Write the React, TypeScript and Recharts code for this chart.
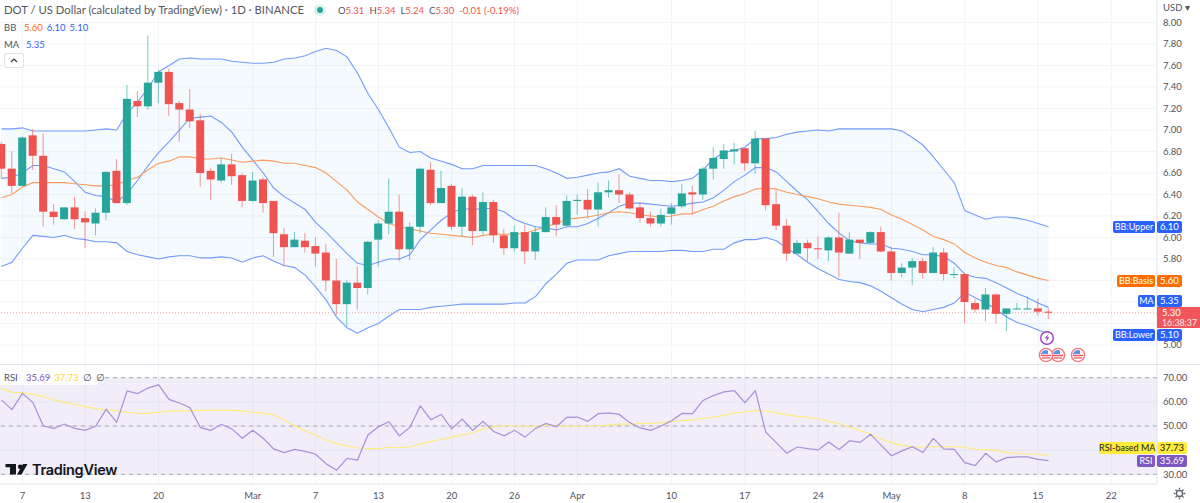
import * as React from "react";
import {
  ComposedChart,
  Area,
  Bar,
  Line,
  XAxis,
  YAxis,
  CartesianGrid,
  ReferenceLine,
  ReferenceArea,
} from "recharts";

// one entry per daily candle, first one is Feb 5
const opens = [
  6.87, 6.64, 6.48, 6.95, 6.76, 6.24, 6.17, 6.28, 6.18, 6.13,
  6.23, 6.62, 6.32, 7.27, 7.22, 7.44, 7.54, 7.25, 7.19, 7.09,
  6.62, 6.53, 6.68, 6.58, 6.34, 6.54, 6.34, 6.03, 5.91, 5.97,
  5.92, 5.86, 5.6, 5.38, 5.58, 5.53, 5.98, 6.13, 6.24, 5.89,
  6.1, 6.63, 6.32, 6.48, 6.1, 6.38, 6.06, 6.33, 6.02, 5.9,
  6.05, 5.87, 6.05, 6.19, 6.11, 6.34, 6.35, 6.26, 6.42, 6.44,
  6.4, 6.28, 6.18, 6.13, 6.22, 6.29, 6.42, 6.4, 6.64, 6.73,
  6.8, 6.83, 6.69, 6.92, 6.31, 6.11, 5.85, 5.95, 5.9, 5.88,
  6.0, 5.85, 5.98, 5.95, 6.05, 5.87, 5.67, 5.72, 5.78, 5.67,
  5.86, 5.66, 5.66, 5.39, 5.33, 5.47, 5.29, 5.34, 5.34, 5.34,
  5.31,
];
const highs = [
  6.89, 6.8, 6.94, 7.01, 6.97, 6.31, 6.28, 6.38, 6.24, 6.27,
  6.62, 6.73, 7.42, 7.36, 7.88, 7.56, 7.57, 7.27, 7.38, 7.15,
  6.65, 6.74, 6.78, 6.6, 6.61, 6.56, 6.34, 6.09, 6.05, 6.04,
  6.0, 5.94, 5.8, 5.6, 5.73, 5.97, 6.16, 6.55, 6.4, 6.14,
  6.65, 6.7, 6.62, 6.5, 6.46, 6.4, 6.42, 6.35, 6.08, 6.11,
  6.12, 6.1, 6.28, 6.3, 6.39, 6.4, 6.45, 6.51, 6.53, 6.59,
  6.42, 6.33, 6.24, 6.27, 6.32, 6.5, 6.48, 6.66, 6.84, 6.87,
  6.88, 6.83, 6.99, 6.92, 6.44, 6.17, 5.98, 5.98, 6.01, 6.01,
  6.23, 6.05, 5.98, 6.06, 6.1, 5.91, 5.76, 5.81, 5.81, 5.91,
  5.9, 5.72, 5.67, 5.43, 5.53, 5.48, 5.34, 5.39, 5.45, 5.43,
  5.34,
];
const lows = [
  6.55, 6.41, 6.48, 6.63, 6.1, 6.12, 6.16, 6.08, 5.9, 6.02,
  6.16, 6.32, 6.3, 7.12, 7.19, 7.25, 7.13, 6.89, 7.02, 6.47,
  6.35, 6.51, 6.49, 6.28, 6.33, 6.23, 5.82, 5.73, 5.91, 5.86,
  5.73, 5.5, 5.28, 5.17, 5.33, 5.47, 5.73, 6.03, 5.78, 5.79,
  6.04, 6.3, 6.32, 6.07, 6.01, 5.93, 6.02, 5.95, 5.84, 5.87,
  5.75, 5.79, 6.05, 6.01, 6.1, 6.21, 6.18, 6.1, 6.37, 6.32,
  6.26, 6.14, 6.1, 6.1, 6.12, 6.27, 6.22, 6.35, 6.54, 6.64,
  6.68, 6.62, 6.59, 6.25, 6.07, 5.78, 5.85, 5.78, 5.8, 5.78,
  5.63, 5.85, 5.8, 5.94, 5.86, 5.6, 5.63, 5.56, 5.62, 5.67,
  5.6, 5.62, 5.2, 5.3, 5.22, 5.2, 5.13, 5.33, 5.33, 5.27,
  5.24,
];
const closes = [
  6.64, 6.48, 6.93, 6.76, 6.24, 6.19, 6.28, 6.17, 6.14, 6.23,
  6.61, 6.32, 7.29, 7.22, 7.44, 7.54, 7.24, 7.19, 7.08, 6.6,
  6.54, 6.68, 6.57, 6.34, 6.53, 6.32, 6.04, 5.91, 5.98, 5.91,
  5.85, 5.6, 5.38, 5.58, 5.53, 5.96, 6.13, 6.24, 5.89, 6.1,
  6.64, 6.32, 6.46, 6.1, 6.38, 6.06, 6.33, 6.02, 5.9, 6.05,
  5.87, 6.05, 6.19, 6.12, 6.34, 6.35, 6.26, 6.42, 6.44, 6.4,
  6.27, 6.18, 6.13, 6.21, 6.28, 6.41, 6.4, 6.64, 6.74, 6.81,
  6.82, 6.69, 6.92, 6.3, 6.11, 5.85, 5.95, 5.9, 5.89, 6.0,
  5.86, 5.98, 5.95, 6.05, 5.87, 5.67, 5.72, 5.78, 5.67, 5.86,
  5.66, 5.66, 5.4, 5.33, 5.47, 5.29, 5.34, 5.34, 5.34, 5.31,
  5.3,
];
const bbUpper = [
  7.01, 7.01, 7.02, 6.99, 6.99, 6.99, 6.99, 6.99, 6.99, 7.0,
  7.01, 7.0, 7.16, 7.26, 7.39, 7.54, 7.6, 7.66, 7.67, 7.66,
  7.66, 7.66, 7.64, 7.63, 7.62, 7.62, 7.63, 7.66, 7.67, 7.69,
  7.73, 7.76, 7.74, 7.68, 7.53, 7.34, 7.19, 7.02, 6.84, 6.79,
  6.8, 6.74, 6.71, 6.68, 6.64, 6.64, 6.67, 6.67, 6.67, 6.67,
  6.67, 6.67, 6.64, 6.6, 6.55, 6.56, 6.58, 6.6, 6.61, 6.64,
  6.57, 6.55, 6.53, 6.53, 6.52, 6.53, 6.55, 6.63, 6.73, 6.79,
  6.81, 6.84, 6.92, 6.92, 6.93, 6.96, 6.98, 6.99, 7.0, 6.99,
  7.01, 7.01, 7.01, 7.01, 7.01, 7.01, 6.99, 6.93, 6.86, 6.75,
  6.63, 6.51, 6.25, 6.21, 6.17, 6.19, 6.19, 6.18, 6.16, 6.13,
  6.1,
];
const bbLower = [
  5.73, 5.77, 5.9, 6.02, 6.01, 6.0, 6.02, 5.99, 5.98, 5.96,
  5.96, 5.95, 5.87, 5.84, 5.82, 5.8, 5.82, 5.83, 5.83, 5.81,
  5.81, 5.82, 5.81, 5.77, 5.81, 5.83, 5.78, 5.74, 5.72, 5.65,
  5.54, 5.42, 5.26, 5.16, 5.11, 5.16, 5.2, 5.27, 5.33, 5.33,
  5.33, 5.35, 5.36, 5.37, 5.38, 5.38, 5.38, 5.38, 5.38, 5.39,
  5.39, 5.45, 5.57, 5.66, 5.76, 5.79, 5.79, 5.79, 5.83, 5.85,
  5.87, 5.87, 5.87, 5.87, 5.88, 5.88, 5.87, 5.87, 5.89, 5.89,
  5.95, 5.98, 5.98, 6.0, 5.97, 5.9, 5.84, 5.77, 5.71, 5.66,
  5.61, 5.59, 5.58, 5.55, 5.5, 5.44, 5.38, 5.33, 5.31, 5.33,
  5.35, 5.39, 5.49, 5.44, 5.39, 5.33, 5.26, 5.21, 5.18, 5.14,
  5.1,
];
const bbBasis = [
  6.37, 6.4, 6.47, 6.51, 6.51, 6.51, 6.51, 6.5, 6.49, 6.48,
  6.48, 6.49, 6.53, 6.56, 6.63, 6.69, 6.71, 6.75, 6.75, 6.73,
  6.73, 6.74, 6.72, 6.7, 6.71, 6.72, 6.71, 6.69, 6.69, 6.67,
  6.65, 6.6, 6.52, 6.44, 6.33, 6.26, 6.19, 6.13, 6.1, 6.08,
  6.06, 6.04, 6.03, 6.02, 6.01, 6.0, 6.02, 6.03, 6.03, 6.03,
  6.04, 6.07, 6.1, 6.13, 6.17, 6.18, 6.19, 6.21, 6.23, 6.24,
  6.23, 6.21, 6.2, 6.19, 6.2, 6.22, 6.22, 6.26, 6.29, 6.34,
  6.38, 6.41, 6.45, 6.46, 6.45, 6.42, 6.4, 6.38, 6.36, 6.33,
  6.31, 6.3, 6.29, 6.28, 6.26, 6.21, 6.17, 6.12, 6.07, 6.01,
  5.98, 5.94, 5.86, 5.81, 5.77, 5.74, 5.72, 5.68, 5.65, 5.62,
  5.6,
];
const maValues = [
  6.55, 6.56, 6.6, 6.67, 6.67, 6.64, 6.61, 6.52, 6.42, 6.39,
  6.38, 6.33, 6.41, 6.53, 6.67, 6.79, 6.89, 7.0, 7.11, 7.12,
  7.13, 7.07, 6.98, 6.84, 6.72, 6.6, 6.46, 6.38, 6.32, 6.26,
  6.14, 6.05, 5.95, 5.85, 5.76, 5.74, 5.77, 5.8, 5.8, 5.84,
  5.98, 6.07, 6.16, 6.23, 6.27, 6.26, 6.27, 6.27, 6.24, 6.17,
  6.13, 6.1, 6.09, 6.07, 6.1, 6.1, 6.13, 6.18, 6.23, 6.29,
  6.32, 6.32, 6.31, 6.3, 6.29, 6.3, 6.32, 6.33, 6.37, 6.44,
  6.52, 6.58, 6.65, 6.65, 6.61, 6.52, 6.43, 6.35, 6.24, 6.13,
  6.04, 5.97, 5.95, 5.94, 5.94, 5.9, 5.89, 5.87, 5.84, 5.84,
  5.82, 5.76, 5.66, 5.63, 5.62, 5.58, 5.53, 5.48, 5.44, 5.39,
  5.35,
];
const rsiValues = [
  60.8, 56.8, 63.5, 59.7, 50.0, 49.0, 50.8, 49.0, 48.2, 50.0,
  56.9, 51.5, 64.5, 63.4, 65.7, 67.1, 61.0, 59.5, 57.6, 49.3,
  48.2, 50.7, 48.8, 44.9, 48.2, 44.9, 40.5, 39.0, 40.3, 39.5,
  38.3, 34.4, 31.7, 36.6, 35.9, 46.3, 49.7, 51.8, 45.9, 49.4,
  58.3, 52.6, 54.8, 48.8, 52.9, 48.2, 51.9, 47.7, 45.9, 48.2,
  45.4, 49.0, 51.1, 49.7, 53.6, 53.7, 51.9, 55.1, 55.4, 54.8,
  51.4, 49.2, 48.2, 50.0, 52.2, 55.2, 55.1, 60.6, 62.6, 64.1,
  64.6, 59.7, 64.6, 47.4, 43.1, 38.7, 41.3, 40.6, 40.1, 43.4,
  40.3, 43.9, 43.2, 46.6, 42.1, 37.7, 39.7, 41.4, 39.0, 44.9,
  40.5, 40.3, 34.8, 33.6, 38.7, 35.1, 36.9, 37.2, 37.2, 36.2,
  35.69,
];
const rsiMaValues = [
  65.6, 63.9, 63.8, 63.1, 62.3, 60.8, 59.8, 59.0, 57.9, 57.2,
  56.8, 56.3, 55.7, 55.2, 55.2, 55.7, 56.3, 56.3, 56.3, 56.5,
  56.5, 56.5, 56.5, 56.3, 55.7, 55.2, 54.6, 52.5, 50.0, 47.9,
  46.3, 44.2, 42.7, 41.7, 41.0, 40.6, 40.6, 41.2, 41.0, 41.3,
  42.6, 43.5, 44.5, 45.3, 46.3, 47.2, 48.8, 49.6, 50.1, 50.1,
  49.9, 49.9, 50.4, 50.1, 49.9, 49.9, 49.9, 50.1, 50.4, 50.8,
  50.8, 51.0, 51.1, 51.4, 51.9, 52.2, 52.5, 53.2, 53.7, 54.4,
  55.4, 55.8, 56.5, 56.1, 55.4, 54.7, 54.0, 53.6, 52.9, 51.9,
  51.0, 49.4, 48.1, 46.7, 44.6, 43.1, 41.9, 41.4, 41.3, 41.4,
  41.4, 41.4, 41.2, 40.3, 40.2, 39.9, 39.1, 38.6, 38.4, 38.3,
  37.73,
];

const timeTicks = [2, 8, 15, 24, 30, 36, 43, 49, 55, 64, 71, 78, 85, 92, 99, 106];
const timeLabels = ["7", "13", "20", "Mar", "7", "13", "20", "26", "Apr", "10", "17", "24", "May", "8", "15", "22"];
// 5.20 to 5.60 sit under the value tags, only their grid lines show
const priceTicks = [5, 5.8, 6, 6.2, 6.4, 6.6, 6.8, 7, 7.2, 7.4, 7.6, 7.8, 8];
const priceGridTicks = [5, 5.2, 5.4, 5.6, 5.8, 6, 6.2, 6.4, 6.6, 6.8, 7, 7.2, 7.4, 7.6, 7.8, 8];
const rsiTicks = [30, 50, 60, 70];
const rsiGridTicks = [30, 40, 50, 60, 70];

const UP = "#26a69a";
const DOWN = "#ef5350";
const BB_BLUE = "#739bfa";
const BB_ORANGE = "#fb9c5f";
const GRID = "#f2f4f9";
const BORDER = "#e0e3eb";
const TEXT = "#50535e";
const FONT = "Lato, 'Noto Sans', sans-serif";
const SMALL = 9.5;

const chartData = opens.map((open, i) => ({
  day: i,
  open,
  high: highs[i],
  low: lows[i],
  close: closes[i],
  range: [lows[i], highs[i]],
  band: [bbLower[i], bbUpper[i]],
  upper: bbUpper[i],
  lower: bbLower[i],
  basis: bbBasis[i],
  ma: maValues[i],
  rsi: rsiValues[i],
  rsiMa: rsiMaValues[i],
}));

const X_DOMAIN: [number, number] = [-0.143, 110.36];
const PRICE_DOMAIN: [number, number] = [4.814, 8.209];
const RSI_DOMAIN: [number, number] = [25.98, 75.26];

function Candle(props: any) {
  const { x, y, width, height, payload } = props;
  const { open, high, low, close } = payload;
  const pxPerUnit = height / (high - low);
  const color = close >= open ? UP : DOWN;
  const bodyTop = y + (high - Math.max(open, close)) * pxPerUnit;
  const bodyHeight = Math.max(Math.abs(open - close) * pxPerUnit, 1);
  const cx = x + width / 2;
  return (
    <g>
      <line x1={cx} x2={cx} y1={y} y2={y + height} stroke={color} strokeOpacity={0.6} />
      <rect x={x} y={bodyTop} width={width} height={bodyHeight} fill={color} />
    </g>
  );
}

function Tag({ text, value, top, color, ink = "#fff", left, right = 1182, h = 12 }: any) {
  const base: React.CSSProperties = {
    position: "absolute",
    top,
    height: h,
    lineHeight: `${h}px`,
    background: color,
    color: ink,
    borderRadius: 2,
    textAlign: "center",
    whiteSpace: "nowrap",
  };
  return (
    <>
      <div style={{ ...base, left, width: 1155 - left, fontSize: 9 }}>{text}</div>
      <div style={{ ...base, left: 1157, width: right - 1157, fontSize: SMALL }}>{value}</div>
    </>
  );
}

function Legend() {
  const row: React.CSSProperties = { position: "absolute", left: 4, fontSize: SMALL, color: TEXT, whiteSpace: "nowrap" };
  const gap = { marginLeft: 5 };
  return (
    <>
      <div style={{ ...row, top: 2, fontSize: 11.3, lineHeight: "16px", color: "#555862" }}>
        DOT / US Dollar (calculated by TradingView) · 1D · BINANCE
      </div>
      <svg style={{ position: "absolute", left: 313, top: 3 }} width={14} height={14}>
        <circle cx={7} cy={7} r={6} fill="#26a69a" fillOpacity={0.15} />
        <circle cx={7} cy={7} r={3} fill="#26a69a" />
      </svg>
      <div style={{ ...row, left: 338, top: 3, lineHeight: "15px" }}>
        O<span style={{ color: DOWN }}>5.31</span>
        <span style={gap}>H</span>
        <span style={{ color: DOWN }}>5.34</span>
        <span style={gap}>L</span>
        <span style={{ color: DOWN }}>5.24</span>
        <span style={gap}>C</span>
        <span style={{ color: DOWN }}>5.30</span>
        <span style={{ ...gap, color: DOWN }}>-0.01 (-0.19%)</span>
      </div>
      <div style={{ ...row, top: 21, lineHeight: "13px" }}>BB</div>
      <div style={{ ...row, left: 24, top: 21, lineHeight: "13px" }}>
        <span style={{ color: "#ff6d00" }}>5.60</span>
        <span style={{ color: "#2962ff", marginLeft: 4 }}>6.10</span>
        <span style={{ color: "#2962ff", marginLeft: 4 }}>5.10</span>
      </div>
      <div style={{ ...row, top: 38, lineHeight: "13px" }}>MA</div>
      <div style={{ ...row, left: 26, top: 38, lineHeight: "13px", color: "#2962ff" }}>5.35</div>
      <div
        style={{
          position: "absolute",
          left: 4,
          top: 53,
          width: 20,
          height: 15,
          background: "#fff",
          border: `1px solid ${BORDER}`,
          borderRadius: 2,
          boxSizing: "border-box",
        }}
      >
        <svg width={18} height={13} style={{ display: "block" }}>
          <path d="M6 8 L9 5 L12 8" fill="none" stroke="#333" strokeWidth={1.2} />
        </svg>
      </div>
      <div style={{ position: "absolute", left: 0, top: 371, width: 98, height: 14, background: "rgba(255,255,255,0.85)" }} />
      <div style={{ ...row, top: 371, lineHeight: "14px" }}>RSI</div>
      <div style={{ ...row, left: 26, top: 371, lineHeight: "14px" }}>
        <span style={{ color: "#7e57c2" }}>35.69</span>
        <span style={{ color: "#fdd835", marginLeft: 4 }}>37.73</span>
        <span style={{ marginLeft: 4 }}>∅</span>
        <span style={{ marginLeft: 4 }}>∅</span>
      </div>
      <div style={{ ...row, left: 1163, top: 1, lineHeight: "13px" }}>USD ▾</div>
    </>
  );
}

function Logo() {
  return (
    <>
      <svg style={{ position: "absolute", left: 5, top: 464 }} width={24} height={12} viewBox="0 0 24 12">
        <path d="M0.5 0 H11 V10.5 H5 V3.2 H0.5 Z" fill="#131722" />
        <circle cx={15.3} cy={2.8} r={2.4} fill="#131722" />
        <path d="M18 0 H22.5 L16.5 10.5 H12 Z" fill="#131722" />
      </svg>
      <div
        style={{
          position: "absolute",
          left: 32,
          top: 459,
          fontFamily: "Inter, sans-serif",
          fontSize: 14.5,
          letterSpacing: -0.3,
          fontWeight: 600,
          lineHeight: "22px",
          color: "#131722",
        }}
      >
        TradingView
      </div>
    </>
  );
}

function FlagIcon({ cx }: { cx: number }) {
  return (
    <g>
      <circle cx={cx} cy={355} r={6.6} fill="#fff" stroke="#f7787f" strokeWidth={1.4} />
      <path d={`M${cx - 5} 355.5 H${cx + 5}`} stroke="#f25560" strokeWidth={1.5} />
      <path d={`M${cx - 4} 358 H${cx + 4}`} stroke="#f25560" strokeWidth={1.3} />
      <path d={`M${cx - 5} 354 A5 5 0 0 1 ${cx + 2} 350.5 V354 Z`} fill="#5a92e6" />
    </g>
  );
}

function EventMarks() {
  return (
    <svg style={{ position: "absolute", left: 0, top: 0 }} width={1200} height={503}>
      <circle cx={1047} cy={338} r={6.3} fill="#fff" stroke="#9c3db8" strokeWidth={1.4} />
      <path d="M1048.5 334 L1044.8 338.6 H1047 L1045.8 342 L1049.4 337.4 H1047.2 Z" fill="#9c3db8" />
      <FlagIcon cx={1058} />
      <FlagIcon cx={1046} />
      <FlagIcon cx={1078} />
      <g fill="none" stroke="#5f6470" strokeWidth={1.3}>
        <circle cx={1179.5} cy={493.5} r={3} />
        <path d="M1179.5 487.8 V489.6 M1179.5 497.4 V499.2 M1173.8 493.5 H1175.6 M1183.4 493.5 H1185.2 M1175.5 489.5 L1176.7 490.7 M1182.3 496.3 L1183.5 497.5 M1175.5 497.5 L1176.7 496.3 M1182.3 490.7 L1183.5 489.5" />
      </g>
    </svg>
  );
}

export default function App() {
  return (
    <div style={{ position: "relative", width: 1200, height: 503, overflow: "hidden", fontFamily: FONT, background: "#fff" }}>
      <style>{"body{margin:0}"}</style>
      <div style={{ position: "absolute", left: 0, top: 0 }}>
        <ComposedChart width={1200} height={365} data={chartData} margin={{ top: 0, right: 0, bottom: 0, left: 0 }}>
          <CartesianGrid stroke={GRID} verticalValues={timeTicks} horizontalValues={priceGridTicks} />
          <XAxis dataKey="day" type="number" domain={X_DOMAIN} allowDataOverflow ticks={timeTicks} hide />
          <YAxis
            orientation="right"
            width={43}
            type="number"
            domain={PRICE_DOMAIN}
            allowDataOverflow
            ticks={priceTicks}
            interval={0}
            tickFormatter={(v: number) => v.toFixed(2)}
            tick={{ fill: TEXT, fontSize: SMALL }}
            tickLine={false}
            tickSize={4}
            axisLine={{ stroke: BORDER }}
          />
          <Area dataKey="band" stroke="none" fill="#2196f3" fillOpacity={0.05} isAnimationActive={false} />
          <Line dataKey="upper" stroke={BB_BLUE} strokeWidth={1.1} dot={false} isAnimationActive={false} />
          <Line dataKey="lower" stroke={BB_BLUE} strokeWidth={1.1} dot={false} isAnimationActive={false} />
          <Line dataKey="ma" stroke={BB_BLUE} strokeWidth={1.1} dot={false} isAnimationActive={false} />
          <Line dataKey="basis" stroke={BB_ORANGE} strokeWidth={1.1} dot={false} isAnimationActive={false} />
          <ReferenceLine y={5.3} stroke={DOWN} strokeOpacity={0.55} strokeDasharray="1 2" />
        </ComposedChart>
      </div>
      {/* candles sit on their own layer so the band lines stay behind them */}
      <div style={{ position: "absolute", left: 0, top: 0 }}>
        <ComposedChart width={1200} height={365} data={chartData} margin={{ top: 0, right: 43, bottom: 0, left: 0 }}>
          <XAxis dataKey="day" type="number" domain={X_DOMAIN} allowDataOverflow hide />
          <YAxis type="number" domain={PRICE_DOMAIN} allowDataOverflow hide />
          <Bar dataKey="range" barSize={8} shape={Candle} isAnimationActive={false} />
        </ComposedChart>
      </div>
      <div style={{ position: "absolute", left: 0, top: 365 }}>
        <ComposedChart width={1200} height={138} data={chartData} margin={{ top: 0, right: 0, bottom: 0, left: 0 }}>
          <CartesianGrid stroke={GRID} verticalValues={timeTicks} horizontalValues={rsiGridTicks} />
          <XAxis
            dataKey="day"
            type="number"
            domain={X_DOMAIN}
            allowDataOverflow
            ticks={timeTicks}
            interval={0}
            height={19}
            tickFormatter={(v: number) => timeLabels[timeTicks.indexOf(v)]}
            tick={{ fill: TEXT, fontSize: SMALL }}
            tickLine={false}
            axisLine={{ stroke: BORDER }}
          />
          <YAxis
            orientation="right"
            width={43}
            type="number"
            domain={RSI_DOMAIN}
            allowDataOverflow
            ticks={rsiTicks}
            interval={0}
            tickFormatter={(v: number) => v.toFixed(2)}
            tick={{ fill: TEXT, fontSize: SMALL }}
            tickLine={false}
            tickSize={4}
            axisLine={{ stroke: BORDER }}
          />
          <ReferenceArea y1={30} y2={70} fill="#7e57c2" fillOpacity={0.1} stroke="none" />
          <ReferenceLine y={70} stroke="#a9abb2" strokeDasharray="4 4" />
          <ReferenceLine y={50} stroke="#a9abb2" strokeDasharray="4 4" />
          <ReferenceLine y={30} stroke="#a9abb2" strokeDasharray="4 4" />
          <Line dataKey="rsiMa" stroke="#fdec7e" strokeWidth={1.2} dot={false} isAnimationActive={false} />
          <Line dataKey="rsi" stroke="#a78fd9" strokeWidth={1.2} dot={false} isAnimationActive={false} />
        </ComposedChart>
      </div>
      <div style={{ position: "absolute", left: 0, top: 364, width: 1200, height: 1, background: BORDER }} />
      <Legend />
      <Logo />
      <EventMarks />
      <Tag text="BB:Upper" value="6.10" top={221} color="#2962ff" left={1113} />
      <Tag text="BB:Basis" value="5.60" top={275} color="#ff6d00" left={1117} />
      <Tag text="MA" value="5.35" top={295} color="#2962ff" left={1138} />
      <div
        style={{
          position: "absolute",
          left: 1157,
          top: 307,
          width: 43,
          height: 21,
          background: "#f0565c",
          color: "#fff",
          fontSize: SMALL,
          lineHeight: "10px",
          paddingLeft: 5,
          paddingTop: 1,
          boxSizing: "border-box",
        }}
      >
        <div>5.30</div>
        <div style={{ fontSize: 8.8, opacity: 0.9 }}>16:38:37</div>
      </div>
      <Tag text="BB:Lower" value="5.10" top={329} color="#2962ff" left={1113} />
      <Tag text="RSI-based MA" value="37.73" top={442} color="#ffeb3b" ink="#222" left={1099} right={1187} />
      <Tag text="RSI" value="35.69" top={455} color="#7e57c2" left={1137} right={1187} />
    </div>
  );
}
